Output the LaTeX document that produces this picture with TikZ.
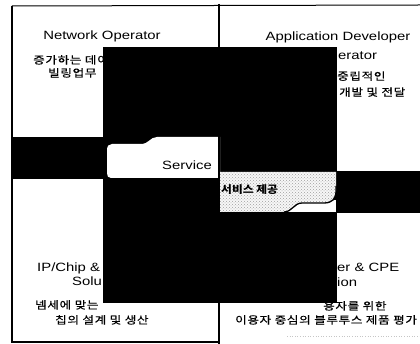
\documentclass[tikz,border=0pt]{standalone}
\usepackage{fontspec}
\setmainfont{Liberation Sans}
\newfontfamily\en[FakeStretch=1.24]{Liberation Sans}
\newfontfamily\ko[FakeStretch=1.2, LetterSpace=6, FakeBold=0.5]{Noto Sans CJK KR}
\newfontfamily\kob[FakeStretch=1.12]{Noto Sans CJK KR}
\usetikzlibrary{patterns}
\begin{document}
\begin{tikzpicture}[x=1pt,y=-1pt,
  entxt/.style={font=\en\fontsize{12}{14}\selectfont, inner sep=0pt},
  kotxt/.style={font=\ko\fontsize{10.5}{12}\selectfont, inner sep=0pt},
  kobold/.style={font=\kob\bfseries\fontsize{10.5}{12}\selectfont, inner sep=0pt},
  redact/.style={fill=black},
  frameline/.style={draw=black, line width=1.3pt}]
\useasboundingbox (0,0) rectangle (420,344);
\fill[white] (0,0) rectangle (420,344);

% texts
\node[entxt, anchor=base] (netop) at (102,39.3) {Network Operator};
\node[kotxt, anchor=base west] (netk1) at (33,63.8) {증가하는 데이};
\node[kotxt, anchor=base west] (netk2) at (48,76.8) {빌링업무};
\node[entxt, anchor=base] (appdev) at (338,40.3) {Application Developer};
\node[entxt, anchor=base west] (appop) at (338,59.3) {erator};
\node[kotxt, anchor=base west] (appk1) at (337,80) {중립적인};
\node[kotxt, anchor=base west] (appk2) at (339,96) {개발 및 전달};
\node[entxt, anchor=base west] (ipchip) at (37,271.3) {IP/Chip \&};
\node[entxt, anchor=base west] (ipsol) at (72,285.3) {Solu};
\node[kotxt, anchor=base west] (ipk1) at (35,308.8) {넴세에 맞는};
\node[kotxt, anchor=base west] (ipk2) at (55,323.8) {칩의 설계 및 생산};
\node[entxt, anchor=base west] (cpe) at (337,271.3) {er \& CPE};
\node[entxt, anchor=base west] (cpesol) at (337,286.3) {ion};
\node[kotxt, anchor=base west] (cpek1) at (323,309.8) {용자를 위한};
\node[kotxt, anchor=base west] (cpek2) at (235,323.8) {이용자 중심의 블루투스 제품 평가};

% black areas
\fill[redact] (103,47) rectangle (337,303);
\fill[redact] (12,137) rectangle (107,179);
\fill[redact] (335,171) rectangle (420,213);

% white gap under the curved edge
\fill[white] (284,200) rectangle (336,212.5);

% white "Service" tab
\fill[white] (107,150) -- (107,173) .. controls (107,176) and (108,178) .. (111,178)
  -- (220,178) -- (220,137) -- (157,137)
  .. controls (150,137) and (149,144) .. (141,144)
  -- (112,144) .. controls (109,144) and (107,146) .. (107,150) -- cycle;

% stippled tab
\path[fill=gray!6, postaction={pattern=crosshatch dots, pattern color=gray!75}]
  (220,172) -- (336,172) -- (336,191)
  .. controls (336,199) and (332,203) .. (324,203) -- (302,203)
  .. controls (294,203) and (292,212) .. (284,212) -- (220,212) -- cycle;
\draw[line width=1.3pt] (336,186) -- (336,191)
  .. controls (336,199) and (332,203) .. (324,203) -- (302,203)
  .. controls (294,203) and (292,212) .. (284,212);

\node[entxt, anchor=base east] (service) at (212,169.3) {Service};
\node[kobold, anchor=base west] (servk) at (221,194) {서비스 제공};

% frame
\coordinate (tl) at (12,6);
\coordinate (tr) at (420,5);
\coordinate (bl) at (12,342);
\coordinate (bm) at (219,342);
\coordinate (ct) at (219,4);
\coordinate (cb) at (219,344);
\draw[frameline, line width=1pt] (tl) -- (tr);
\draw[frameline] (tl) -- (bl) -- (bm);
\draw[frameline, line width=1.6pt] (ct) -- (cb);
\coordinate (dl) at (287,336);
\coordinate (dr) at (420,336);
\draw[gray!45, dotted, line width=0.6pt] (dl) -- (dr);
\end{tikzpicture}
\end{document}
